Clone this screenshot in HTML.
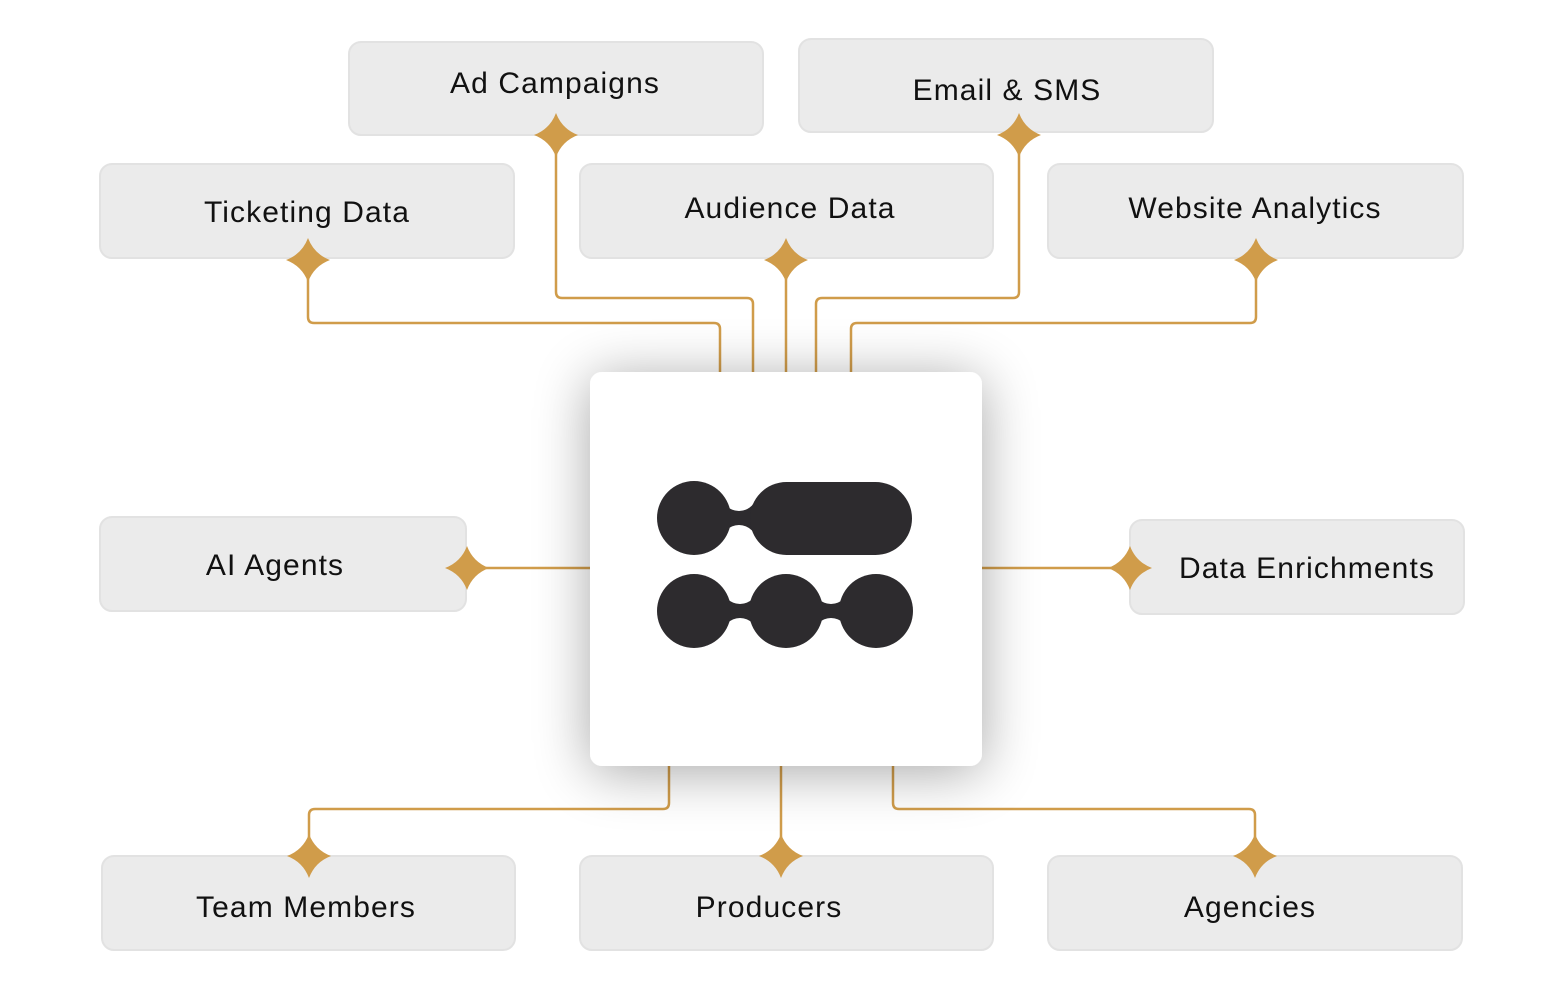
<!DOCTYPE html>
<html><head><meta charset="utf-8"><style>
html,body{margin:0;padding:0;background:#fff;}
svg{display:block}
text{font-family:"Liberation Sans",sans-serif;font-size:30px;letter-spacing:1.1px;fill:#111;text-anchor:middle;}
</style></head><body>
<svg width="1551" height="990" viewBox="0 0 1551 990">
<defs>
<filter id="sh" x="-40%" y="-40%" width="180%" height="180%">
<feGaussianBlur in="SourceAlpha" stdDeviation="28"/>
<feOffset dx="0" dy="6"/>
<feComponentTransfer><feFuncA type="linear" slope="0.35"/></feComponentTransfer>
<feMerge><feMergeNode/><feMergeNode in="SourceGraphic"/></feMerge>
</filter>
<path id="d" d="M0,-22 Q6,-6 22,0 Q6,6 0,22 Q-6,6 -22,0 Q-6,-6 0,-22Z" fill="#d09c4a"/>
</defs>
<g fill="#ebebeb" stroke="#e2e2e2" stroke-width="2">
<rect x="349" y="42" width="414" height="93" rx="12"/>
<rect x="799" y="39" width="414" height="93" rx="12"/>
<rect x="100" y="164" width="414" height="94" rx="12"/>
<rect x="580" y="164" width="413" height="94" rx="12"/>
<rect x="1048" y="164" width="415" height="94" rx="12"/>
<rect x="100" y="517" width="366" height="94" rx="12"/>
<rect x="1130" y="520" width="334" height="94" rx="12"/>
<rect x="102" y="856" width="413" height="94" rx="12"/>
<rect x="580" y="856" width="413" height="94" rx="12"/>
<rect x="1048" y="856" width="414" height="94" rx="12"/>
</g>
<g fill="none" stroke="#d09c4a" stroke-width="2.5">
<path d="M556,135 V292 Q556,298 562,298 H747 Q753,298 753,304 V372"/>
<path d="M1019,135 V292 Q1019,298 1013,298 H822 Q816,298 816,304 V372"/>
<path d="M308,260 V317 Q308,323 314,323 H714 Q720,323 720,329 V372"/>
<path d="M786,260 V372"/>
<path d="M1256,260 V317 Q1256,323 1250,323 H857 Q851,323 851,329 V372"/>
<path d="M467,568 H590"/>
<path d="M1130,568 H982"/>
<path d="M669,766 V803 Q669,809 663,809 H315 Q309,809 309,815 V856"/>
<path d="M781,766 V856"/>
<path d="M893,766 V803 Q893,809 899,809 H1249 Q1255,809 1255,815 V856"/>
</g>
<rect x="590" y="372" width="392" height="394" rx="12" fill="#fff" filter="url(#sh)"/>
<g fill="#2d2b2e">
<rect x="715" y="500" width="50" height="36"/>
<rect x="715" y="593" width="140" height="36"/>
</g>
<g fill="#fff">
<circle cx="739" cy="493" r="18"/><circle cx="739" cy="543" r="18"/>
<circle cx="740" cy="586" r="18"/><circle cx="740" cy="636" r="18"/>
<circle cx="831" cy="586" r="18"/><circle cx="831" cy="636" r="18"/>
</g>
<g fill="#2d2b2e">
<circle cx="694" cy="518" r="37"/>
<rect x="750" y="482" width="162" height="73" rx="36.5"/>
<circle cx="694" cy="611" r="37"/>
<circle cx="786" cy="611" r="37"/>
<circle cx="876" cy="611" r="37"/>
</g>
<use href="#d" x="556" y="135"/>
<use href="#d" x="1019" y="135"/>
<use href="#d" x="308" y="260"/>
<use href="#d" x="786" y="260"/>
<use href="#d" x="1256" y="260"/>
<use href="#d" x="467" y="568"/>
<use href="#d" x="1130" y="568"/>
<use href="#d" x="309" y="856"/>
<use href="#d" x="781" y="856"/>
<use href="#d" x="1255" y="856"/>
<text x="555" y="93">Ad Campaigns</text>
<text x="1007" y="100">Email &amp; SMS</text>
<text x="307" y="222">Ticketing Data</text>
<text x="790" y="218">Audience Data</text>
<text x="1255" y="218">Website Analytics</text>
<text x="275" y="575">AI Agents</text>
<text x="1307" y="578">Data Enrichments</text>
<text x="306" y="917">Team Members</text>
<text x="769" y="917">Producers</text>
<text x="1250" y="917">Agencies</text>
</svg>
</body></html>
